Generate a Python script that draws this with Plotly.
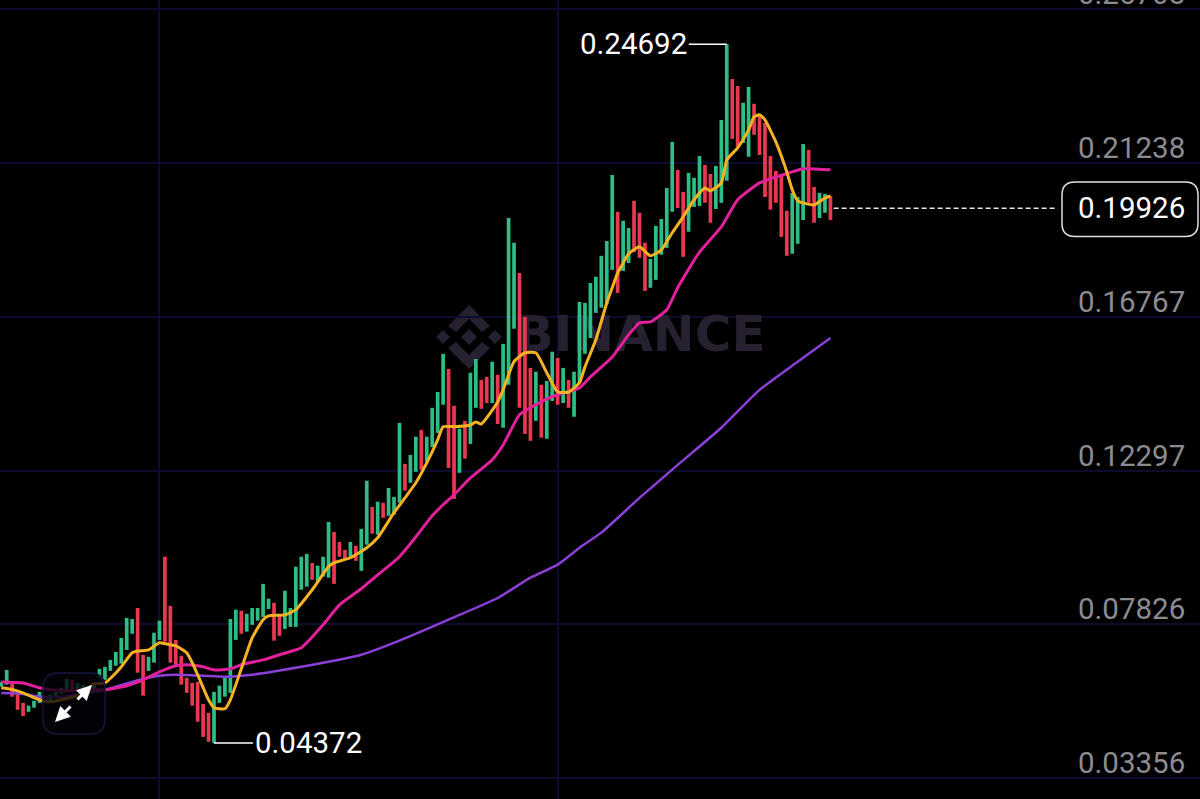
import plotly.graph_objects as go

W, H = 1200, 799
# candle extremes (one value per period, oldest first)
candle_high = [.0615,.0650,.0615,.0583,.0554,.0546,.0560,.0586,.0563,.0578,.0586,.0598,.0624,.0621,.0612,.0607,.0604,.0612,.0653,.0659,
 .0679,.0702,.0743,.0801,.0798,.0830,.0694,.0688,.0758,.0793,.0979,.0836,.0737,.0691,.0627,.0612,.0615,.0551,.0525,.0586,
 .0604,.0627,.0798,.0825,.0822,.0813,.0830,.0830,.0900,.0857,.0845,.0807,.0880,.0830,.0950,.0979,.0987,.0961,.0953,.0979,
 .1080,.1051,.1022,.0999,.1022,.1011,.1060,.1200,.1124,.1139,.1136,.1179,.1153,.1368,.1249,.1275,.1328,.1348,.1328,.1412,
 .1458,.1569,.1525,.1418,.1351,.1374,.1514,.1554,.1493,.1502,.1546,.1508,.1598,.1964,.1892,.1804,.1676,.1528,.1517,.1479,
 .1490,.1575,.1557,.1528,.1493,.1517,.1720,.1717,.1775,.1793,.1854,.1897,.2089,.1982,.1956,.1935,.2014,.1979,.1892,.1845,
 .1941,.1961,.2051,.2185,.2104,.2040,.2095,.2081,.2144,.2118,.2092,.2115,.2249,.24692,.2368,.2348,.2299,.2345,.2296,.2264,
 .2240,.2144,.2101,.2089,.1985,.2037,.2025,.2179,.2162,.2054,.2037,.2034,.2028]
candle_low = [.0601,.0607,.0572,.0534,.0516,.0528,.0540,.0554,.0554,.0557,.0572,.0580,.0592,.0586,.0592,.0586,.0586,.0595,.0627,.0621,
 .0647,.0662,.0668,.0708,.0755,.0642,.0575,.0647,.0671,.0737,.0732,.0671,.0665,.0607,.0583,.0546,.0499,.0455,.0441,.04372,
 .0554,.0572,.0583,.0737,.0755,.0761,.0781,.0793,.0804,.0827,.0735,.0749,.0769,.0775,.0775,.0883,.0892,.0912,.0906,.0921,
 .0918,.0900,.0979,.0970,.0976,.0967,.0938,.1014,.1046,.1043,.1092,.1098,.1101,.1136,.1171,.1194,.1226,.1232,.1255,.1298,
 .1339,.1421,.1237,.1147,.1223,.1264,.1307,.1412,.1409,.1426,.1426,.1365,.1354,.1479,.1642,.1412,.1336,.1316,.1374,.1325,
 .1322,.1432,.1421,.1426,.1412,.1386,.1485,.1569,.1615,.1688,.1703,.1714,.1813,.1746,.1810,.1833,.1865,.1848,.1752,.1761,
 .1784,.1857,.1877,.1982,.1993,.1851,.1924,.1996,.1999,.2008,.1950,.1990,.2008,.2072,.2194,.2171,.2182,.2142,.2206,.2147,
 .2025,.1988,.2008,.1909,.1854,.1860,.1889,.1958,.2008,.1950,.1964,.1979,.1958]
falling_periods = [2,3,4,13,25,26,30,31,32,33,34,35,36,37,38,44,50,51,57,61,62,63,65,68,70,74,77,82,83,85,88,89,91,95,96,97,99,102,104,
 113,116,117,118,124,125,129,130,134,135,138,139,140,141,142,143,144,148,149,152]

ma_fast_idx = [0,2,4,7,9,11,14,17,19,21,22,24,25,27,29,31,32,34,35,36,38,39,41,42,44,46,48,49,52,54,57,60,61,64,67,69,72,74,76,78,80,81,83,86,87,88,91,92,94,96,98,100,102,104,106,107,109,111,112,113,114,115,117,119,121,123,125,127,129,130,132,133,135,137,138,139,140,142,144,145,146,147,149,151,152]
ma_fast = [.0598,.0593,.0583,.0563,.0557,.0563,.0575,.0609,.0612,.0641,.0659,.0700,.0705,.0708,.0729,.0723,.0720,.0700,.0671,.0636,.0563,.0540,.0537,.0563,.0653,.0743,.0796,.0807,.0810,.0825,.0883,.0950,.0961,.0976,.1005,.1034,.1107,.1150,.1194,.1252,.1319,.1357,.1357,.1362,.1371,.1365,.1429,.1464,.1546,.1572,.1572,.1514,.1458,.1458,.1485,.1531,.1610,.1717,.1761,.1804,.1833,.1860,.1880,.1854,.1871,.1921,.1967,.2017,.2051,.2043,.2066,.2133,.2168,.2220,.2258,.2264,.2249,.2185,.2098,.2046,.2014,.2008,.2002,.2022,.2028]
ma_mid_idx = [0,4,7,11,15,19,23,26,29,32,34,37,39,42,44,48,51,55,59,62,66,69,73,76,79,81,83,86,90,92,95,97,100,102,106,108,112,115,117,119,122,124,128,132,135,139,142,145,147,152]
ma_mid = [.0615,.0612,.0598,.0589,.0592,.0592,.0604,.0621,.0644,.0662,.0665,.0659,.0650,.0653,.0665,.0679,.0694,.0714,.0781,.0839,.0886,.0926,.0979,.1037,.1098,.1130,.1159,.1208,.1261,.1304,.1392,.1412,.1438,.1450,.1470,.1502,.1560,.1624,.1659,.1662,.1697,.1761,.1865,.1938,.2017,.2066,.2083,.2098,.2107,.2104]
ma_slow_idx = [0,4,7,11,15,19,21,24,27,29,32,37,41,46,55,66,73,82,91,97,102,106,110,117,124,132,139,146,152]
ma_slow = [.0583,.0580,.0572,.0572,.0580,.0592,.0601,.0615,.0627,.0633,.0636,.0633,.0630,.0636,.0659,.0694,.0735,.0796,.0859,.0918,.0956,.1005,.1049,.1150,.1246,.1354,.1464,.1546,.1615]

price_ticks = [0.03356,0.07826,0.12297,0.16767,0.21238,0.25708]
price_tick_labels = ["0.03356","0.07826","0.12297","0.16767","0.21238","0.25708"]
time_ticks = [29,102]
last_price = 0.19926
high_label, high_idx = 0.24692, 133
low_label, low_idx = 0.04372, 39

GREEN, RED = "#2EBD85", "#E9384F"
GRID = "#0D0C2E"
MARK = "#262030"
FONT = "Roboto"
FS = 29.5
n = len(candle_high)
idx = list(range(n))
up = [i for i in idx if i not in falling_periods]
dn = falling_periods

def px(x): return x / W
def py(y): return 1 - y / H
def rr(x0, y0, x1, y1, r):
    return (f"M{px(x0+r)},{py(y0)} L{px(x1-r)},{py(y0)} Q{px(x1)},{py(y0)} {px(x1)},{py(y0+r)} "
            f"L{px(x1)},{py(y1-r)} Q{px(x1)},{py(y1)} {px(x1-r)},{py(y1)} L{px(x0+r)},{py(y1)} "
            f"Q{px(x0)},{py(y1)} {px(x0)},{py(y1-r)} L{px(x0)},{py(y0+r)} Q{px(x0)},{py(y0)} {px(x0+r)},{py(y0)} Z")
def diamond(cx, cy, r):
    return f"M{px(cx)},{py(cy-r)} L{px(cx+r)},{py(cy)} L{px(cx)},{py(cy+r)} L{px(cx-r)},{py(cy)} Z"

fig = go.Figure()
# watermark sits on the base axes, below every market trace
fig.add_trace(go.Scatter(x=[117.2], y=[0.1614], mode="text", text=["BINANCE"], yaxis="y", hoverinfo="skip",
    textfont=dict(family="DejaVu Sans", size=50, color=MARK, weight="bold"), textposition="middle center"))
for ids, col in ((up, GREEN), (dn, RED)):
    fig.add_trace(go.Bar(x=ids, y=[candle_high[i]-candle_low[i] for i in ids], base=[candle_low[i] for i in ids],
        width=0.68, marker=dict(color=col, line_width=0), yaxis="y2", hoverinfo="skip"))
for xs, ys, col, w in ((ma_slow_idx, ma_slow, "#8A3FD6", 2.5), (ma_mid_idx, ma_mid, "#E2209C", 3), (ma_fast_idx, ma_fast, "#F7B224", 3)):
    fig.add_trace(go.Scatter(x=xs, y=ys, mode="lines", yaxis="y2", hoverinfo="skip",
        line=dict(color=col, width=w, shape="spline", smoothing=0.5)))
fig.add_trace(go.Scatter(x=[n-0.4, 193.7], y=[last_price, last_price], mode="lines", yaxis="y2", hoverinfo="skip",
    line=dict(color="#E6E6E6", width=1.5, dash="5px,3px")))

ann = []
for v, t in zip(price_ticks, price_tick_labels):
    ann.append(dict(x=px(1187), xref="paper", y=v, yref="y2", text=t, showarrow=False, xanchor="right", yanchor="middle",
        yshift=15, font=dict(family=FONT, size=FS, color="#8B8B90")))
ann.append(dict(x=px(1187), xref="paper", y=last_price, yref="y2", text=f"{last_price:.5f}", showarrow=False, xanchor="right",
    yanchor="middle", font=dict(family=FONT, size=FS, color="#FFFFFF")))
ann.append(dict(x=high_idx, y=high_label, xref="x", yref="y2", text=f"{high_label:.5f}", showarrow=True, arrowhead=0, arrowwidth=1.5,
    arrowcolor="#FFFFFF", ax=-38, ay=0, xanchor="right", yanchor="middle", font=dict(family=FONT, size=FS, color="#FFFFFF")))
ann.append(dict(x=low_idx, y=low_label, xref="x", yref="y2", text=f"{low_label:.5f}", showarrow=True, arrowhead=0, arrowwidth=1.5,
    arrowcolor="#FFFFFF", ax=39, ay=0, xanchor="left", yanchor="middle", font=dict(family=FONT, size=FS, color="#FFFFFF")))
for tip, tail in (((92, 685), (76, 701)), ((55, 722), (72, 705))):
    ann.append(dict(x=px(tip[0]), y=py(tip[1]), xref="paper", yref="paper", text="", showarrow=True, arrowhead=2, arrowsize=1,
        arrowwidth=3, arrowcolor="#FFFFFF", ax=tail[0]-tip[0], ay=tail[1]-tip[1]))

shapes = [dict(type="path", path=diamond(cx, cy, r), xref="paper", yref="paper", layer="below", fillcolor=MARK, line_width=0)
          for cx, cy, r in ((469, 337, 8), (443, 337, 7), (495, 337, 7))]
shapes += [dict(type="path", xref="paper", yref="paper", layer="below", fillcolor=MARK, line_width=0, path=p) for p in (
    f"M{px(469)},{py(305)} L{px(490)},{py(326)} L{px(482)},{py(332)} L{px(469)},{py(319)} L{px(456)},{py(332)} L{px(448)},{py(326)} Z",
    f"M{px(469)},{py(369)} L{px(490)},{py(348)} L{px(482)},{py(342)} L{px(469)},{py(355)} L{px(456)},{py(342)} L{px(448)},{py(348)} Z")]
shapes.append(dict(type="path", path=rr(1062, 182, 1198, 236.5, 13), xref="paper", yref="paper", fillcolor="#000000",
    line=dict(color="#E2E2E2", width=1.5), layer="above"))
shapes.append(dict(type="path", path=rr(43, 673, 105, 734, 15), xref="paper", yref="paper", fillcolor="rgba(2,2,8,0.78)",
    line=dict(color="#17163C", width=1.5), layer="above"))

yr = [0.02745, 0.25978]
fig.update_layout(width=W, height=H, margin=dict(l=0, r=0, t=0, b=0), paper_bgcolor="#000000", plot_bgcolor="#000000",
    showlegend=False, barmode="overlay", annotations=ann, shapes=shapes,
    xaxis=dict(range=[-0.23, 219.75], tickvals=time_ticks, showticklabels=False, showgrid=True, gridcolor=GRID, gridwidth=1.5,
        zeroline=False, ticks=""),
    yaxis=dict(range=yr, tickvals=price_ticks, showticklabels=False, showgrid=True, gridcolor=GRID, gridwidth=1.5, zeroline=False, ticks=""),
    yaxis2=dict(range=yr, overlaying="y", side="right", showticklabels=False, showgrid=False, zeroline=False, ticks=""))
fig.write_html("out.html", config=dict(displayModeBar=False), post_script="document.body.style.margin='0';document.documentElement.style.overflow='hidden';")
